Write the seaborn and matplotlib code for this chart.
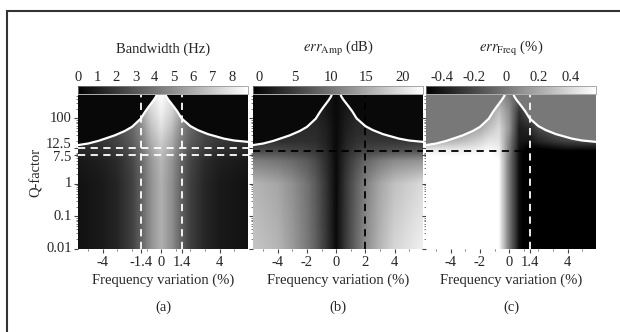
import numpy as np
import matplotlib
matplotlib.use("Agg")
import matplotlib.pyplot as plt
import seaborn as sns
from matplotlib.ticker import FixedLocator, NullFormatter, LogLocator
from matplotlib.patches import Rectangle

# ---------------- data ----------------
freq_nodes = [-5.7, -4.0, -3.0, -2.0, -1.4, -0.7, 0.0, 0.7, 1.4, 2.0, 3.0, 4.0, 5.95]
q_rows = [0.01, 1, 5, 10, 20, 50, 150, 600]

bandwidth_rows = [
    [0.6, 0.9, 1.3, 2.2, 3.3, 5.0, 6.1, 5.0, 3.3, 2.2, 1.3, 0.9, 0.6],
    [0.6, 0.9, 1.3, 2.2, 3.3, 5.0, 6.1, 5.0, 3.3, 2.2, 1.3, 0.9, 0.6],
    [0.8, 1.1, 1.5, 2.4, 3.5, 5.2, 6.3, 5.2, 3.5, 2.4, 1.5, 1.1, 0.8],
    [1.3, 1.6, 2.0, 2.8, 3.8, 5.6, 6.7, 5.6, 3.8, 2.8, 2.0, 1.6, 1.3],
    [1.6, 1.9, 2.3, 3.2, 4.2, 6.0, 7.1, 6.0, 4.2, 3.2, 2.3, 1.9, 1.6],
    [1.8, 2.1, 2.5, 3.5, 4.6, 6.6, 7.7, 6.6, 4.6, 3.5, 2.5, 2.1, 1.8],
    [2.0, 2.3, 2.8, 4.0, 5.5, 7.3, 8.3, 7.3, 5.5, 4.0, 2.8, 2.3, 2.0],
    [2.0, 2.3, 2.8, 4.0, 6.0, 7.9, 8.8, 7.9, 6.0, 4.0, 2.8, 2.3, 2.0],
]
bandwidth_outside = 0.3

err_amp_rows = [
    [17.5, 16.0, 13.5, 10.5, 8.0, 4.3, 0.0, 4.8, 8.8, 12.0, 16.0, 19.0, 21.5],
    [16.0, 14.5, 12.5, 9.8, 7.5, 4.0, 0.0, 4.5, 8.2, 11.0, 14.5, 17.0, 19.5],
    [11.0, 10.0, 9.0, 7.5, 6.0, 3.4, 0.0, 3.8, 6.5, 8.5, 10.5, 12.0, 13.0],
    [6.0, 6.0, 5.5, 5.0, 4.3, 2.8, 0.0, 3.0, 4.8, 5.5, 6.0, 6.5, 7.0],
    [3.5, 3.5, 3.5, 3.5, 3.3, 2.3, 0.0, 2.5, 3.6, 4.0, 4.0, 4.0, 4.0],
    [3.0, 3.0, 3.0, 3.0, 3.0, 2.0, 0.0, 2.0, 3.0, 3.0, 3.0, 3.0, 3.0],
    [2.5, 2.5, 2.5, 2.5, 2.5, 1.5, 0.0, 1.5, 2.5, 2.5, 2.5, 2.5, 2.5],
    [2.0, 2.0, 2.0, 2.0, 2.0, 1.0, 0.0, 1.0, 2.0, 2.0, 2.0, 2.0, 2.0],
]
err_amp_outside = 0.0

err_freq_rows = [
    [0.6, 0.6, 0.6, 0.6, 0.6, 0.55, 0.0, -0.45, -0.6, -0.6, -0.6, -0.6, -0.6],
    [0.6, 0.6, 0.6, 0.6, 0.6, 0.55, 0.0, -0.45, -0.6, -0.6, -0.6, -0.6, -0.6],
    [0.6, 0.6, 0.6, 0.6, 0.6, 0.55, 0.0, -0.45, -0.6, -0.6, -0.6, -0.6, -0.6],
    [0.5, 0.5, 0.5, 0.52, 0.55, 0.5, 0.02, -0.45, -0.55, -0.55, -0.52, -0.5, -0.5],
    [0.2, 0.25, 0.3, 0.38, 0.45, 0.45, 0.05, -0.4, -0.42, -0.35, -0.28, -0.22, -0.2],
    [0.05, 0.08, 0.12, 0.2, 0.3, 0.4, 0.12, -0.38, -0.33, -0.2, -0.12, -0.08, -0.05],
    [0.0, 0.0, 0.05, 0.1, 0.15, 0.3, 0.1, -0.3, -0.15, -0.05, 0.0, 0.0, 0.0],
    [0.0, 0.0, 0.0, 0.0, 0.05, 0.1, 0.0, -0.1, -0.05, 0.0, 0.0, 0.0, 0.0],
]
err_freq_outside = 0.0

curve_left_x = [-6.0, -5.0, -4.3, -3.2, -2.5, -2.0, -1.4, -1.1, -0.86, -0.7, -0.5, -0.35, -0.25]
curve_left_q = [14.5, 17.0, 20.5, 30.0, 41.0, 55.0, 98.0, 160.0, 226.0, 280.0, 370.0, 470.0, 620.0]
curve_right_x = [0.25, 0.35, 0.5, 0.7, 0.86, 1.1, 1.4, 2.0, 2.5, 3.2, 4.3, 5.0, 6.0]
curve_right_q = [620.0, 470.0, 370.0, 285.0, 230.0, 165.0, 100.0, 58.0, 44.0, 33.0, 24.0, 21.0, 19.0]

bw_ticks = [0, 1, 2, 3, 4, 5, 6, 7, 8]
amp_ticks = [0, 5, 10, 15, 20]
freq_ticks = [-0.4, -0.2, 0, 0.2, 0.4]
y_ticks = [0.01, 0.1, 1, 7.5, 12.5, 100]
y_ticklabels = ["0.01", "0.1", "1", "7.5", "12.5", "100"]
xt_a = [-4, -1.4, 0, 1.4, 4]
xt_b = [-4, -2, 0, 2, 4]
xt_c = [-4, -2, 0, 1.4, 4]

# ---------------- style ----------------
sns.set_style("white")
plt.rcParams['font.family'] = ['Liberation Serif', 'DejaVu Serif']
plt.rcParams['mathtext.fontset'] = 'stix'
plt.rcParams['axes.unicode_minus'] = False
FS = 10.5

XMIN, XMAX = -5.7, 5.95
QMIN, QMAX = 0.01, 520.0

xf = np.linspace(XMIN, XMAX, 480)
lqf = np.linspace(np.log10(QMIN), np.log10(QMAX), 360)
lq_rows = np.log10(q_rows)
bound = np.where(
    xf < 0,
    np.interp(xf, curve_left_x, np.log10(curve_left_q)),
    np.interp(xf, curve_right_x, np.log10(curve_right_q)),
)


def build(rows, outside):
    rows = np.asarray(rows, dtype=float)
    along_x = np.array([np.interp(xf, freq_nodes, r) for r in rows])
    field = np.empty((len(lqf), len(xf)))
    for j in range(len(xf)):
        field[:, j] = np.interp(lqf, lq_rows, along_x[:, j])
    field[lqf[:, None] > bound[None, :]] = outside
    return field


fig = plt.figure(figsize=(6.2, 3.32), dpi=100)
W, H = 620.0, 332.0

panels = [
    dict(left=78, rows=bandwidth_rows, out=bandwidth_outside, vmin=0, vmax=8.85,
         cticks=bw_ticks, title="Bandwidth (Hz)", xt=xt_a, lab="(a)"),
    dict(left=253, rows=err_amp_rows, out=err_amp_outside, vmin=-0.9, vmax=22.9,
         cticks=amp_ticks, title=r"$err_{\mathrm{Amp}}$ (dB)", xt=xt_b, lab="(b)"),
    dict(left=426, rows=err_freq_rows, out=err_freq_outside, vmin=-0.5, vmax=0.56,
         cticks=freq_ticks, title=r"$err_{\mathrm{Freq}}$ (%)", xt=xt_c, lab="(c)"),
]

# vertical nudges (points) of the crowded y tick labels
label_nudge = {"12.5": 2.5, "7.5": -2.0}

ax_w = 170
ax_top, ax_bot = 95, 249
for i, p in enumerate(panels):
    ax = fig.add_axes([p['left'] / W, 1 - ax_bot / H, ax_w / W, (ax_bot - ax_top) / H])
    field = build(p['rows'], p['out'])
    mesh = ax.pcolormesh(xf, 10 ** lqf, field, cmap='gray', vmin=p['vmin'], vmax=p['vmax'],
                         shading='auto', rasterized=True)
    ax.set_yscale('log')
    ax.set_xlim(XMIN, XMAX)
    ax.set_ylim(QMIN, QMAX)
    for s in ax.spines.values():
        s.set_visible(False)

    # boundary curves
    sns.lineplot(x=curve_left_x, y=curve_left_q, ax=ax, color='white', lw=1.6, legend=False)
    sns.lineplot(x=curve_right_x, y=curve_right_q, ax=ax, color='white', lw=1.6, legend=False)

    dash = (0, (4, 3))
    if i == 0:
        for xv in (-1.4, 1.4):
            ax.axvline(xv, color='white', lw=1.3, ls=dash)
        for yv in (7.5, 12.5):
            ax.axhline(yv, color='white', lw=1.3, ls=dash)
    elif i == 1:
        ax.axvline(2.0, color='black', lw=1.3, ls=dash)
        ax.axhline(10.0, color='black', lw=1.3, ls=dash)
    else:
        ax.axvline(1.4, color='white', lw=1.3, ls=dash)
        ax.axhline(10.0, color='black', lw=1.3, ls=dash)

    # ticks
    ax.set_xticks(p['xt'])
    ax.set_xticklabels([("%g" % v) for v in p['xt']], fontsize=FS)
    ax.xaxis.set_minor_locator(FixedLocator(range(-5, 6)))
    ax.set_yticks(y_ticks)
    ax.yaxis.set_minor_locator(LogLocator(base=10, subs=np.arange(2, 10)))
    ax.yaxis.set_minor_formatter(NullFormatter())
    ax.set_yticklabels([])
    if i == 0:
        for yv, txt in zip(y_ticks, y_ticklabels):
            ax.annotate(txt, xy=(0, yv), xycoords=('axes fraction', 'data'),
                        xytext=(-4.5, label_nudge.get(txt, 0.0)), textcoords='offset points',
                        ha='right', va='center', fontsize=FS)
        ax.set_ylabel("Q-factor", fontsize=FS, labelpad=20)
    ax.tick_params(axis='both', which='major', direction='out', length=3, width=0.8,
                   color='#444444', pad=2, left=True, bottom=True)
    ax.tick_params(axis='both', which='minor', direction='out', length=1.5, width=0.6,
                   color='#666666', left=True, bottom=True)
    ax.set_xlabel("Frequency variation (%)", fontsize=FS, labelpad=3)
    ax.grid(False)

    # colorbar
    cax = fig.add_axes([p['left'] / W, 1 - 94 / H, ax_w / W, 8 / H])
    cb = fig.colorbar(mesh, cax=cax, orientation='horizontal')
    cb.set_ticks(p['cticks'])
    cb.set_ticklabels([("%g" % v) for v in p['cticks']])
    cax.xaxis.set_ticks_position('top')
    cax.tick_params(axis='x', direction='in', length=2, width=0.6, color='#888888',
                    labelsize=FS, pad=1.5)
    cb.outline.set_linewidth(0.5)
    cb.outline.set_edgecolor('#888888')
    cax.minorticks_off()

    cx = (p['left'] + ax_w / 2) / W
    fig.text(cx, 1 - 49 / H, p['title'], ha='center', va='center', fontsize=FS)
    fig.text(cx, 1 - 307 / H, p['lab'], ha='center', va='center', fontsize=FS)

# outer frame
fig.add_artist(Rectangle((6.5 / W, -0.2), 1.2, 1 - 10.5 / H + 0.2, transform=fig.transFigure,
                         fill=False, lw=1.5, edgecolor='#333333', clip_on=False))

fig.savefig("out.png", dpi=100)
